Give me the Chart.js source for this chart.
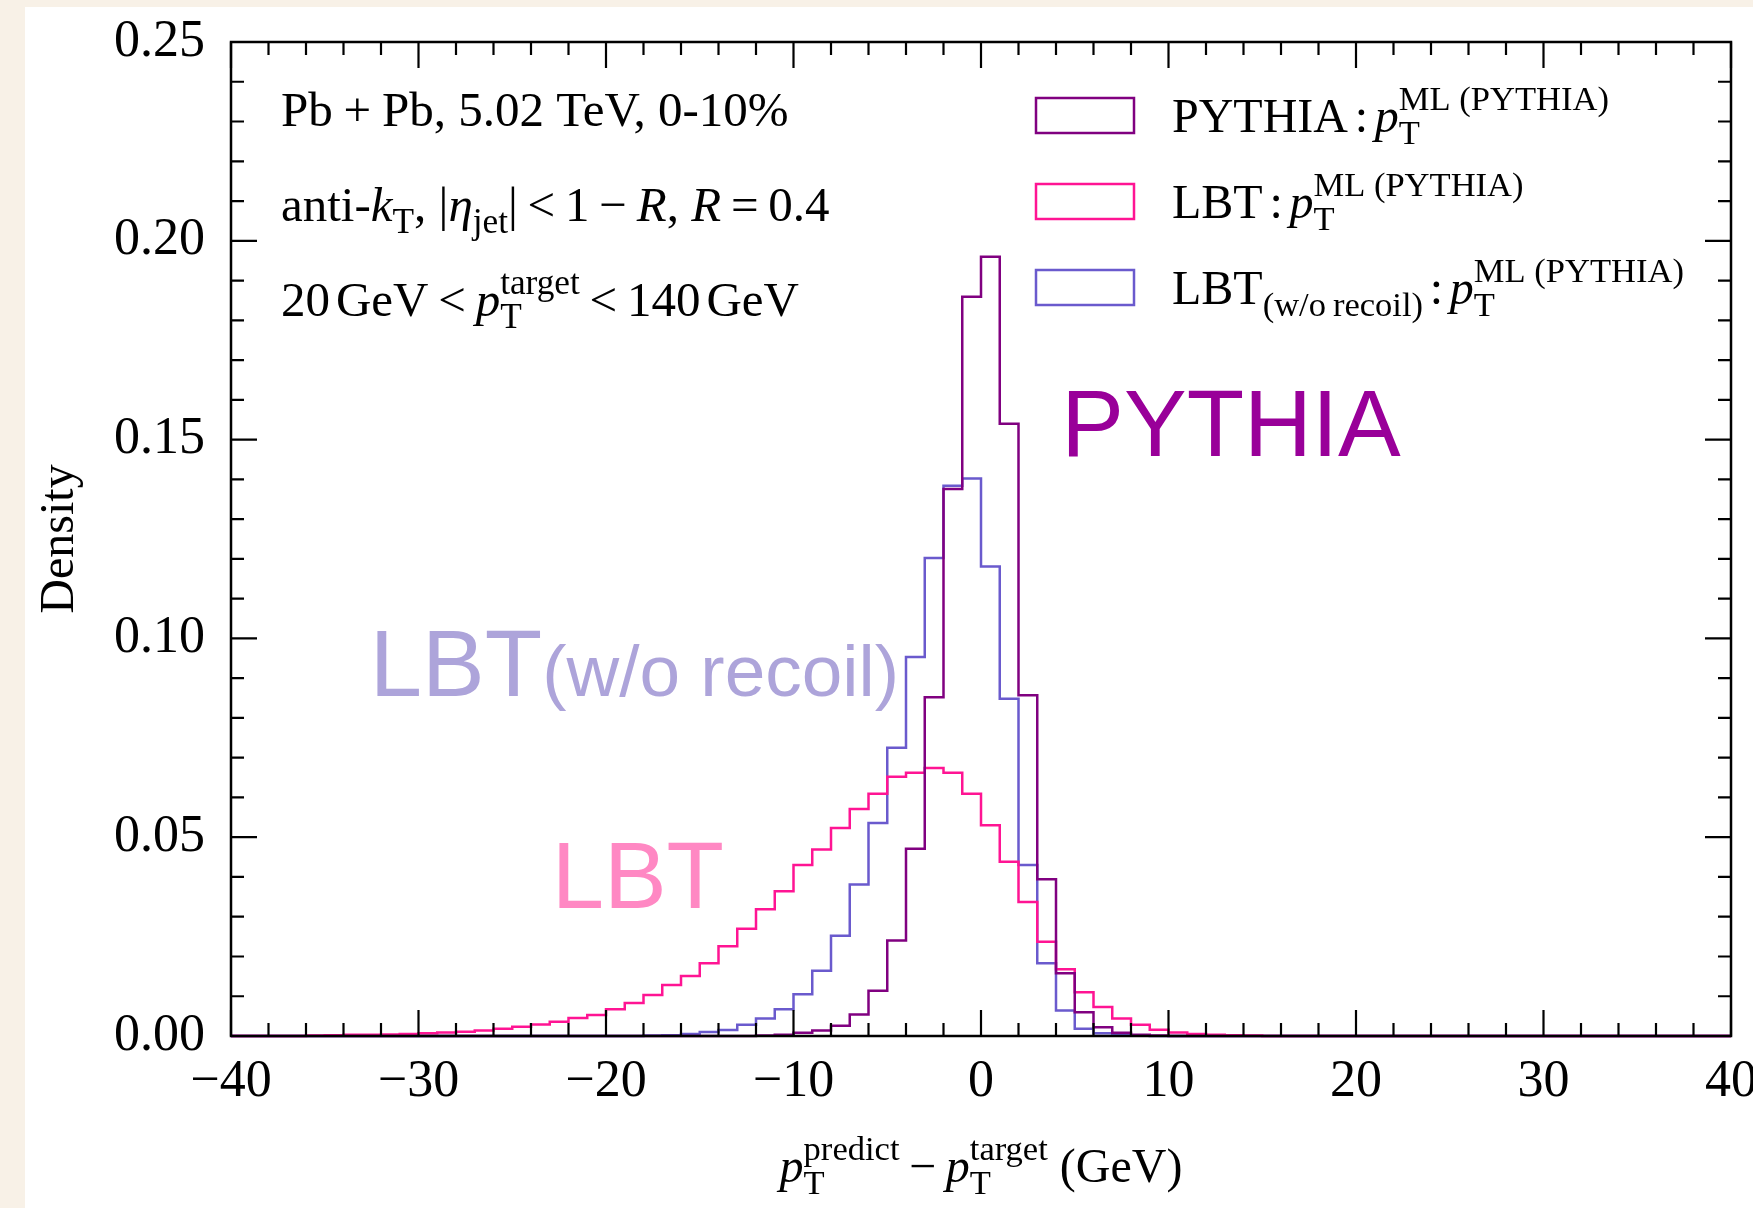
<!DOCTYPE html>
<html>
<head>
<meta charset="utf-8">
<script src="https://cdn.jsdelivr.net/npm/chart.js@4.4.1/dist/chart.umd.min.js"></script>
<style>
  html, body { margin: 0; padding: 0; background: #f8f1e7; }
  #wrap { width: 1753px; height: 1208px; }
</style>
</head>
<body>
<div id="wrap"><canvas id="my-chart" width="1753" height="1208"></canvas></div>
<script>
// histogram: 80 bins of 1 GeV, lower edges from -40 to 39
const binStart = -40;
const binWidth = 1;

const pythiaValues = [
  0, 0, 0, 0, 0, 0, 0, 0, 0, 0,
  0, 0, 0, 0, 0, 0, 0, 0, 0, 0,
  0, 0, 0, 0, 0, 0, 0, 0, 0.0001, 0.0003,
  0.0008, 0.0014, 0.0026, 0.0054, 0.0114, 0.0240, 0.0471, 0.0852, 0.1376, 0.1859,
  0.1960, 0.1540, 0.0857, 0.0394, 0.0158, 0.0060, 0.0022, 0.0008, 0.0003, 0.0001,
  0, 0, 0, 0, 0, 0, 0, 0, 0, 0,
  0, 0, 0, 0, 0, 0, 0, 0, 0, 0,
  0, 0, 0, 0, 0, 0, 0, 0, 0, 0
];

const lbtValues = [
  0, 0, 0, 0, 0.0001, 0.0002, 0.0003, 0.0003, 0.0004, 0.0005,
  0.0007, 0.0009, 0.0011, 0.0014, 0.0018, 0.0023, 0.0029, 0.0036, 0.0045, 0.0053,
  0.0067, 0.0083, 0.0103, 0.0128, 0.0151, 0.0183, 0.0226, 0.0270, 0.0319, 0.0364,
  0.0430, 0.0469, 0.0523, 0.0571, 0.0609, 0.0652, 0.0662, 0.0674, 0.0662, 0.0609,
  0.0530, 0.0438, 0.0337, 0.0237, 0.0168, 0.0110, 0.0073, 0.0044, 0.0028, 0.0016,
  0.0009, 0.0005, 0.0003, 0.0002, 0.0001, 0, 0, 0, 0, 0,
  0, 0, 0, 0, 0, 0, 0, 0, 0, 0,
  0, 0, 0, 0, 0, 0, 0, 0, 0, 0
];

const lbtNoRecoilValues = [
  0, 0, 0, 0, 0, 0, 0, 0, 0, 0,
  0, 0, 0, 0, 0, 0, 0, 0, 0, 0,
  0, 0, 0.0001, 0.0002, 0.0005, 0.0010, 0.0015, 0.0028, 0.0044, 0.0067,
  0.0105, 0.0164, 0.0252, 0.0381, 0.0536, 0.0725, 0.0953, 0.1202, 0.1384, 0.1402,
  0.1181, 0.0848, 0.0430, 0.0183, 0.0064, 0.0018, 0.0007, 0.0003, 0.0001, 0,
  0, 0, 0, 0, 0, 0, 0, 0, 0, 0,
  0, 0, 0, 0, 0, 0, 0, 0, 0, 0,
  0, 0, 0, 0, 0, 0, 0, 0, 0, 0
];

const xTicks = [-40, -30, -20, -10, 0, 10, 20, 30, 40];
const yTicks = [0, 0.05, 0.10, 0.15, 0.20, 0.25];

const purple = "#800080";
const pink = "#ff1493";
const slate = "#6a5acd";

const SERIF = '"Liberation Serif", "Times New Roman", serif';
const SANS = '"Liberation Sans", Arial, sans-serif';

function toSteps(values) {
  const pts = [{ x: binStart, y: 0 }];
  values.forEach((v, i) => pts.push({ x: binStart + i * binWidth, y: v }));
  pts.push({ x: binStart + values.length * binWidth, y: 0 });
  return pts;
}

function fontStr(size, italic, fam) {
  return (italic ? "italic " : "") + size + "px " + (fam || SERIF);
}

function segWidth(ctx, s, size) {
  if (s.g !== undefined) return s.g * size;
  if (s.t !== undefined) {
    ctx.font = fontStr(size, s.i);
    return ctx.measureText(s.t).width;
  }
  ctx.font = fontStr(size * 0.72, false);
  const a = s.sub ? ctx.measureText(s.sub).width : 0;
  const b = s.sup ? ctx.measureText(s.sup).width : 0;
  return Math.max(a, b);
}

// text with sub/superscripts, y is the baseline
function drawRich(ctx, segs, x, y, size, align) {
  let total = 0;
  segs.forEach((s) => (total += segWidth(ctx, s, size)));
  if (align === "center") x -= total / 2;
  ctx.textAlign = "left";
  ctx.textBaseline = "alphabetic";
  segs.forEach((s) => {
    const w = segWidth(ctx, s, size);
    if (s.t !== undefined) {
      ctx.font = fontStr(size, s.i);
      ctx.fillText(s.t, x, y);
    } else if (s.g === undefined) {
      ctx.font = fontStr(size * 0.72, false);
      if (s.sub) ctx.fillText(s.sub, x, y + size * 0.25);
      if (s.sup) ctx.fillText(s.sup, x, y - size * 0.45);
    }
    x += w;
  });
}

const sp = { g: 0.2 };
const mlSup = { sub: "T", sup: "ML (PYTHIA)" };
const colon = [{ g: 0.14 }, { t: ":" }, { g: 0.14 }];
const legendRows = [
  { color: purple, segs: [{ t: "PYTHIA" }, ...colon, { t: "p", i: true }, mlSup] },
  { color: pink, segs: [{ t: "LBT" }, ...colon, { t: "p", i: true }, mlSup] },
  { color: slate, segs: [{ t: "LBT" }, { sub: "(w/o\u2009recoil)" }, ...colon, { t: "p", i: true }, mlSup] }
];

const infoLines = [
  [{ t: "Pb" }, { g: 0.22 }, { t: "+" }, { g: 0.22 }, { t: "Pb, 5.02 TeV, 0-10%" }],
  [{ t: "anti-" }, { t: "k", i: true }, { sub: "T" }, { t: ", |" }, { t: "\u03b7", i: true }, { sub: "jet" },
   { t: "|" }, sp, { t: "<" }, sp, { t: "1" }, sp, { t: "\u2212" }, sp, { t: "R", i: true }, { t: ", " },
   { t: "R", i: true }, sp, { t: "=" }, sp, { t: "0.4" }],
  [{ t: "20" }, { g: 0.12 }, { t: "GeV" }, sp, { t: "<" }, sp, { t: "p", i: true }, { sub: "T", sup: "target" },
   sp, { t: "<" }, sp, { t: "140" }, { g: 0.12 }, { t: "GeV" }]
];

const xTitle = [{ t: "p", i: true }, { sub: "T", sup: "predict" }, sp, { t: "\u2212" }, sp,
  { t: "p", i: true }, { sub: "T", sup: "target" }, { t: " (GeV)" }];

const decorPlugin = {
  id: "decor",
  beforeDraw(chart) {
    const ctx = chart.ctx;
    ctx.save();
    ctx.fillStyle = "#f8f1e7";
    ctx.fillRect(0, 0, chart.width, chart.height);
    ctx.fillStyle = "#ffffff";
    ctx.fillRect(25, 7, chart.width - 25, chart.height - 7);
    ctx.restore();
  },
  afterDatasetsDraw(chart) {
    const ctx = chart.ctx;
    const ca = chart.chartArea;
    const xs = chart.scales.x;
    const ys = chart.scales.y;
    ctx.save();

    // frame with inward ticks on all sides
    ctx.strokeStyle = "#000";
    ctx.lineWidth = 2.5;
    ctx.strokeRect(ca.left, ca.top, ca.right - ca.left, ca.bottom - ca.top);
    ctx.lineWidth = 2.2;
    ctx.beginPath();
    for (let v = -40; v <= 40; v += 2) {
      const px = xs.getPixelForValue(v);
      const len = v % 10 === 0 ? 26 : 13;
      ctx.moveTo(px, ca.bottom); ctx.lineTo(px, ca.bottom - len);
      ctx.moveTo(px, ca.top); ctx.lineTo(px, ca.top + len);
    }
    for (let k = 0; k <= 25; k++) {
      const py = ys.getPixelForValue(k * 0.01);
      const len = k % 5 === 0 ? 26 : 13;
      ctx.moveTo(ca.left, py); ctx.lineTo(ca.left + len, py);
      ctx.moveTo(ca.right, py); ctx.lineTo(ca.right - len, py);
    }
    ctx.stroke();

    // big labels
    ctx.textAlign = "left";
    ctx.textBaseline = "alphabetic";
    ctx.fillStyle = "#990099";
    ctx.font = fontStr(94, false, SANS);
    ctx.fillText("PYTHIA", xs.getPixelForValue(4.28), ys.getPixelForValue(0.146));
    ctx.fillStyle = "#ff88c3";
    ctx.fillText("LBT", xs.getPixelForValue(-22.9), ys.getPixelForValue(0.0323));
    ctx.fillStyle = "#ada4da";
    const lx = xs.getPixelForValue(-32.6);
    const ly = ys.getPixelForValue(0.0854);
    ctx.fillText("LBT", lx, ly);
    const lw = ctx.measureText("LBT").width;
    ctx.font = fontStr(73, false, SANS);
    ctx.fillText("(w/o recoil)", lx + lw, ly);

    // info text top left
    ctx.fillStyle = "#000";
    infoLines.forEach((segs, i) => {
      drawRich(ctx, segs, ca.left + 50, ca.top + 84 + i * 95, 49);
    });

    // legend
    legendRows.forEach((row, i) => {
      const by = ca.top + 56 + i * 86;
      ctx.strokeStyle = row.color;
      ctx.lineWidth = 2.5;
      ctx.strokeRect(ca.left + 805, by, 98, 35);
      ctx.fillStyle = "#000";
      drawRich(ctx, row.segs, ca.left + 941, by + 34, 48);
    });

    // x axis title
    drawRich(ctx, xTitle, (ca.left + ca.right) / 2, 1182, 48, "center");
    ctx.restore();
  }
};

function histSet(label, values, color) {
  return {
    label: label,
    data: toSteps(values),
    borderColor: color,
    backgroundColor: color,
    borderWidth: 2.5,
    pointRadius: 0,
    fill: false,
    stepped: "before",
    clip: false
  };
}

const ctx = document.getElementById("my-chart").getContext("2d");
const chart = new Chart(ctx, {
  type: "line",
  data: {
    datasets: [
      histSet("PYTHIA", pythiaValues, purple),
      histSet("LBT", lbtValues, pink),
      histSet("LBT (w/o recoil)", lbtNoRecoilValues, slate)
    ]
  },
  options: {
    responsive: false,
    devicePixelRatio: 1,
    animation: false,
    layout: { padding: { left: 0, right: 22, top: 42, bottom: 0 } },
    plugins: {
      legend: { display: false },
      tooltip: { enabled: false }
    },
    scales: {
      x: {
        type: "linear",
        min: -40,
        max: 40,
        grid: { display: false, drawTicks: false },
        border: { display: false },
        afterBuildTicks: (s) => { s.ticks = xTicks.map((v) => ({ value: v })); },
        afterFit: (s) => { s.height = 172; s.paddingLeft = 0; s.paddingRight = 0; },
        ticks: {
          padding: 15,
          color: "#000",
          maxRotation: 0,
          font: { family: SERIF, size: 52, lineHeight: 1.2 },
          callback: (v) => (v < 0 ? "\u2212" + Math.abs(v) : String(v))
        }
      },
      y: {
        min: 0,
        max: 0.25,
        grid: { display: false, drawTicks: false },
        border: { display: false },
        afterBuildTicks: (s) => { s.ticks = yTicks.map((v) => ({ value: v })); },
        afterFit: (s) => { s.width = 231; s.paddingTop = 0; s.paddingBottom = 0; },
        title: {
          display: true,
          text: "Density",
          color: "#000",
          font: { family: SERIF, size: 48, lineHeight: 1.2 },
          padding: { top: 32, bottom: 0 }
        },
        ticks: {
          padding: 26,
          color: "#000",
          font: { family: SERIF, size: 52, lineHeight: 1.2 },
          callback: (v) => Number(v).toFixed(2)
        }
      }
    }
  },
  plugins: [decorPlugin]
});
</script>
</body>
</html>
